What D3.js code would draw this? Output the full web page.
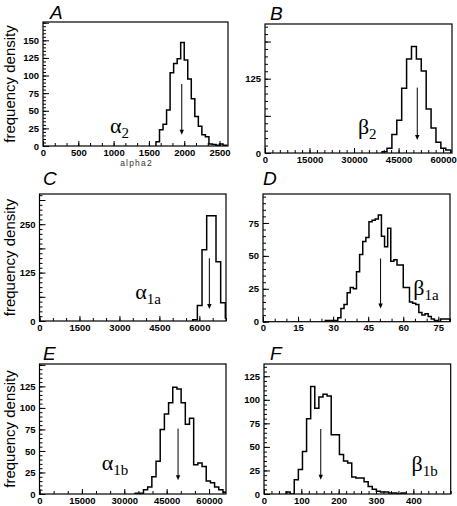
<!DOCTYPE html>
<html><head><meta charset="utf-8">
<script src="https://cdn.jsdelivr.net/npm/d3@7"></script>
<style>body{margin:0;background:#fff}svg{display:block}</style>
</head><body><svg id="c" width="457" height="506"></svg>
<script>
// ---------- data ----------
const panelLetters = ["A", "B", "C", "D", "E", "F"];
const symbolBase = ["\u03b1", "\u03b2", "\u03b1", "\u03b2", "\u03b1", "\u03b2"];
const symbolSub = ["2", "2", "1a", "1a", "1b", "1b"];
const yTitle = "frequency density";
const xTitleA = "alpha2";

const xLabelsA = [0, 500, 1000, 1500, 2000, 2500];
const yLabelsA = [0, 25, 50, 75, 100, 125, 150];
const binStartA = 1600, binWidthA = 50;
const countsA = [6, 23, 31, 51, 104, 117, 124, 147, 122, 95, 67, 42, 28, 16, 13, 3, 2, 1, 3, 1];
const arrowA = [1965, 88, 16];

const xLabelsB = [0, 15000, 30000, 45000, 60000];
const yLabelsB = [0, 125];
const binStartB = 39450, binWidthB = 1650;
const countsB = [2, 8, 31, 55, 109, 158, 179, 158, 138, 74, 42, 18, 8, 5];
const arrowB = [51300, 110, 22];

const xLabelsC = [0, 1500, 3000, 4500, 6000];
const yLabelsC = [0, 125, 250];
const binStartC = 5750, binWidthC = 175;
const countsC = [3, 40, 184, 272, 272, 153, 47, 8];
const arrowC = [6375, 162, 31];

const xLabelsD = [0, 15, 30, 45, 60, 75];
const yLabelsD = [0, 25, 50, 75];
const binStartD = 26.6667, binWidthD = 1.3333;
const countsD = [1, 1, 1, 1, 3, 10, 13, 22, 26, 25, 38, 51, 61, 64, 76, 77, 78, 81, 65, 57,
                 71, 46, 47, 43, 43, 26, 26, 15, 14, 13, 7, 5, 6, 4, 2, 1, 0, 2, 2, 2];
const arrowD = [50.3, 48, 10];

const xLabelsE = [0, 15000, 30000, 45000, 60000];
const yLabelsE = [0, 25, 50, 75, 100, 125];
const binStartE = 33840, binWidthE = 1480;
const countsE = [1, 1, 5, 8, 20, 38, 75, 93, 106, 124, 122, 106, 81, 88, 34, 36, 32, 15, 13, 8, 5, 2];
const arrowE = [49030, 76, 16];

const xLabelsF = [0, 100, 200, 300, 400];
const yLabelsF = [0, 25, 50, 75, 100, 125];
const binStartF = 59, binWidthF = 11;
const countsF = [2, 0, 15, 26, 45, 80, 114, 91, 103, 106, 104, 63, 63, 42, 35, 33, 18, 17, 17, 13, 8, 5, 3, 2, 2, 1, 1, 0, 1];
const arrowF = [152, 69, 15];

// ---------- layout ----------
const panels = [
  {frame:[43,22,228,146], xd:[0,2620], yd:[0,176], xl:xLabelsA, xm:500/3, yl:yLabelsA, yM:25, ym:5,
   b0:binStartA, bw:binWidthA, c:countsA, ar:arrowA, sym:[950,18.6], letter:[50,19], title:true},
  {frame:[265,24,452,153], xd:[0,63000], yd:[0,217], xl:xLabelsB, xm:2500, yl:yLabelsB, yM:62.5, ym:12.5,
   b0:binStartB, bw:binWidthB, c:countsB, ar:arrowB, sym:[31300,32.5], letter:[270,20], title:false},
  {frame:[39.5,194,226,321], xd:[0,7000], yd:[0,328], xl:xLabelsC, xm:500, yl:yLabelsC, yM:62.5, ym:12.5,
   b0:binStartC, bw:binWidthC, c:countsC, ar:arrowC, sym:[3590,57], letter:[43,185], title:true},
  {frame:[263,194,450,321.7], xd:[0,80], yd:[0,97], xl:xLabelsD, xm:5, yl:yLabelsD, yM:25, ym:5,
   b0:binStartD, bw:binWidthD, c:countsD, ar:arrowD, sym:[64.3,20.4], letter:[263,185], title:false},
  {frame:[39.5,364,226,494], xd:[0,66000], yd:[0,151], xl:xLabelsE, xm:5000, yl:yLabelsE, yM:25, ym:5,
   b0:binStartE, bw:binWidthE, c:countsE, ar:arrowE, sym:[22000,28], letter:[43,360], title:true},
  {frame:[264,364,450.7,494], xd:[0,500], yd:[0,138], xl:xLabelsF, xm:20, yl:yLabelsF, yM:25, ym:5,
   b0:binStartF, bw:binWidthF, c:countsF, ar:arrowF, sym:[395,24], letter:[270,360], title:false}
];

const svg = d3.select("#c");
const tickFont = "'Liberation Sans', Arial, sans-serif";

function rangeStep(a, b, s) {
  const out = []; const n = Math.floor((b - a) / s + 1e-6);
  for (let i = 0; i <= n; i++) out.push(a + i * s);
  return out;
}

panels.forEach((p, i) => {
  const [x0, y0, x1, y1] = p.frame;
  const x = d3.scaleLinear().domain(p.xd).range([x0, x1]);
  const y = d3.scaleLinear().domain(p.yd).range([y1, y0]);
  const g = svg.append("g");

  const cid = "clip" + i;
  svg.append("clipPath").attr("id", cid).append("rect")
    .attr("x", x0).attr("y", y0).attr("width", x1 - x0).attr("height", y1 - y0);

  // histogram outline
  const pts = [];
  const n = p.c.length;
  pts.push([x(p.b0), y(0)]);
  p.c.forEach((v, k) => {
    const a = p.b0 + k * p.bw, b = a + p.bw;
    pts.push([x(a), y(v)]); pts.push([x(b), y(v)]);
  });
  pts.push([x(p.b0 + n * p.bw), y(0)]);
  g.append("path").attr("clip-path", `url(#${cid})`)
    .attr("d", d3.line()(pts)).attr("fill", "none").attr("stroke", "#000")
    .attr("stroke-width", 1.5).attr("stroke-linejoin", "miter");

  // axes (ticks inside the frame)
  const xMinor = rangeStep(p.xd[0], p.xd[1], p.xm);
  const yMinor = rangeStep(p.yd[0], p.yd[1], p.ym);
  const yMajor = rangeStep(p.yd[0], p.yd[1], p.yM);

  const axB = g.append("g").attr("transform", `translate(0,${y1})`);
  axB.call(d3.axisBottom(x).tickValues(xMinor).tickSize(-3).tickFormat(""));
  const axB2 = g.append("g").attr("transform", `translate(0,${y1})`);
  axB2.call(d3.axisBottom(x).tickValues(p.xl).tickSize(-5).tickPadding(3).tickFormat(d3.format("d")));
  const axL = g.append("g").attr("transform", `translate(${x0},0)`);
  axL.call(d3.axisLeft(y).tickValues(yMinor).tickSize(-3).tickFormat(""));
  const axL2 = g.append("g").attr("transform", `translate(${x0},0)`);
  axL2.call(d3.axisLeft(y).tickValues(yMajor).tickSize(-6).tickFormat(""));
  const axL3 = g.append("g").attr("transform", `translate(${x0},0)`);
  axL3.call(d3.axisLeft(y).tickValues(p.yl).tickSize(0).tickPadding(4).tickFormat(d3.format("d")));

  g.selectAll(".domain").remove();
  g.selectAll(".tick line").attr("stroke", "#000").attr("stroke-width", 1);
  g.selectAll(".tick text").attr("font-family", tickFont).attr("font-size", 9.5)
    .attr("font-weight", "bold").attr("fill", "#000");

  // frame
  g.append("rect").attr("x", x0).attr("y", y0).attr("width", x1 - x0).attr("height", y1 - y0)
    .attr("fill", "none").attr("stroke", "#000").attr("stroke-width", 1.2);

  // arrow
  const [ax, ay0, ay1] = p.ar;
  g.append("line").attr("x1", x(ax)).attr("x2", x(ax)).attr("y1", y(ay0)).attr("y2", y(ay1) - 4)
    .attr("stroke", "#000").attr("stroke-width", 1);
  g.append("path").attr("d", `M${x(ax) - 2.2},${y(ay1) - 5}L${x(ax) + 2.2},${y(ay1) - 5}L${x(ax)},${y(ay1)}Z`)
    .attr("fill", "#000");

  // symbol label
  const t = g.append("text").attr("x", x(p.sym[0])).attr("y", y(p.sym[1]))
    .attr("font-family", "'Liberation Serif', 'Times New Roman', serif").attr("font-size", 22);
  t.append("tspan").text(symbolBase[i]);
  t.append("tspan").attr("font-size", 15).attr("dy", 5).text(symbolSub[i]);

  // panel letter
  g.append("text").attr("x", p.letter[0]).attr("y", p.letter[1]).text(panelLetters[i])
    .attr("font-family", tickFont).attr("font-style", "italic").attr("font-size", 19);

  if (p.title) {
    g.append("text").attr("transform", `translate(15,${(y0 + y1) / 2}) rotate(-90)`)
      .attr("text-anchor", "middle").attr("font-family", tickFont).attr("font-size", 15)
      .text(yTitle);
  }
  if (i === 0) {
    g.append("text").attr("x", (x0 + x1) / 2 + 1).attr("y", 166).attr("text-anchor", "middle")
      .attr("font-family", tickFont).attr("font-size", 8.5).attr("letter-spacing", 1.2)
      .attr("fill", "#333").text(xTitleA);
  }
});
</script></body></html>
